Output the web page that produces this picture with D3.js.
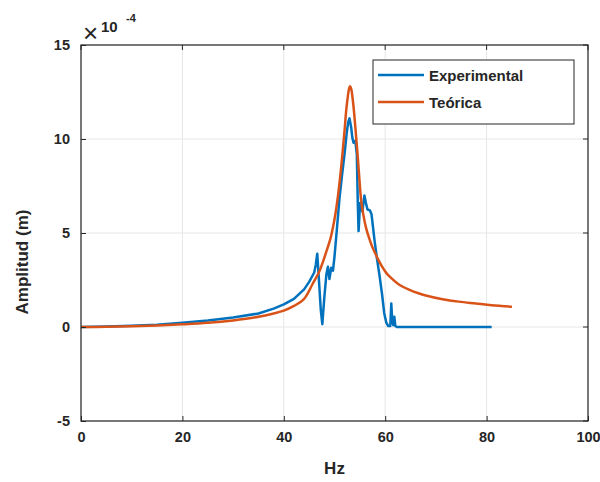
<!DOCTYPE html>
<html><head><meta charset="utf-8">
<script src="https://cdn.jsdelivr.net/npm/d3@7"></script>
<style>body{margin:0;background:#fff}svg{display:block}text{font-family:"Liberation Sans",Arial,sans-serif;font-weight:bold;fill:#262626}</style>
</head><body>
<script>
const expHz  = [0,5,10,15,20,25,30,35,38,40,42,44,45,46,46.3,46.6,47.0,47.3,47.6,48.0,48.4,48.7,49.0,49.35,49.7,50.0,50.5,51.0,51.5,52.0,52.4,52.7,52.95,53.3,53.5,53.75,54.1,54.4,54.6,54.75,55.05,55.3,55.5,55.9,56.2,56.5,57.0,57.3,57.6,57.9,58.4,58.9,59.4,59.8,60.2,60.6,61.0,61.2,61.4,61.6,61.8,62.0,62.3,65,70,75,81];
const expAmp = [0,0.02,0.06,0.12,0.22,0.34,0.5,0.72,0.98,1.2,1.5,2.0,2.4,2.9,3.3,3.9,2.2,0.9,0.15,1.6,2.8,3.2,2.55,3.15,3.0,3.75,5.3,6.9,8.1,9.25,10.3,10.9,11.1,10.6,10.1,9.8,9.9,9.2,6.5,5.1,6.6,6.3,6.15,7.0,6.6,6.25,6.2,6.0,5.3,4.6,3.6,2.7,1.7,0.75,0.25,0.05,0.05,1.25,0.3,0.1,0.55,0.05,0,0,0,0,0];
const teoHz  = [0,5,10,15,20,25,30,35,38,40,42,44,45.7,47,47.7,48.5,49.2,49.7,50.2,50.7,51.2,51.6,52,52.3,52.6,52.85,53.05,53.3,53.6,53.9,54.3,54.6,54.9,55.25,55.7,56.2,56.8,57.4,57.9,58.5,59.3,60.2,61,62.5,64.8,66.7,68,71.3,74.5,77.9,81,85];
const teoAmp = [0,0.01,0.035,0.08,0.14,0.22,0.35,0.54,0.72,0.87,1.12,1.5,2.3,2.95,3.45,4.1,4.7,5.3,6.05,7.0,8.2,9.3,10.5,11.5,12.2,12.65,12.8,12.65,12.1,11.3,10.0,9.0,7.9,6.75,5.95,5.3,4.75,4.3,4.0,3.65,3.25,2.88,2.65,2.3,1.97,1.78,1.68,1.48,1.35,1.25,1.16,1.08];
const xTicks = [0,20,40,60,80,100];
const yTicks = [-5,0,5,10,15];
const seriesNames = ["Experimental","Teórica"];
const colors = ["#0072BD","#D95319"];

const W=600,H=482, L=81, R=588, T=45, B=421;
const svg=d3.select("body").append("svg").attr("width",W).attr("height",H);
const x=d3.scaleLinear().domain([0,100]).range([L,R]);
const y=d3.scaleLinear().domain([-5,15]).range([B,T]);

// grid
svg.append("g").selectAll("line").data(xTicks).join("line")
  .attr("x1",d=>x(d)).attr("x2",d=>x(d)).attr("y1",T).attr("y2",B)
  .attr("stroke","#e6e6e6").attr("stroke-width",1);
svg.append("g").selectAll("line").data(yTicks).join("line")
  .attr("x1",L).attr("x2",R).attr("y1",d=>y(d)).attr("y2",d=>y(d))
  .attr("stroke","#e6e6e6").attr("stroke-width",1);

// lines
svg.append("clipPath").attr("id","c").append("rect").attr("x",L).attr("y",T).attr("width",R-L).attr("height",B-T);
const expData=expHz.map((h,i)=>[h,expAmp[i]]);
const teoData=teoHz.map((h,i)=>[h,teoAmp[i]]);
svg.append("path").datum(expData).attr("clip-path","url(#c)")
  .attr("d",d3.line().x(d=>x(d[0])).y(d=>y(d[1])).curve(d3.curveLinear))
  .attr("fill","none").attr("stroke",colors[0]).attr("stroke-width",2.5).attr("stroke-linejoin","round");
svg.append("path").datum(teoData).attr("clip-path","url(#c)")
  .attr("d",d3.line().x(d=>x(d[0])).y(d=>y(d[1])).curve(d3.curveCatmullRom.alpha(0.5)))
  .attr("fill","none").attr("stroke",colors[1]).attr("stroke-width",2.5);

// axes
const fmt=d=>String(d);
const ax=svg.append("g").attr("transform",`translate(0,${B})`)
  .call(d3.axisBottom(x).tickValues(xTicks).tickFormat(fmt).tickSize(-5).tickPadding(11));
ax.select(".domain").remove();
ax.selectAll("line").attr("stroke","#262626");
ax.selectAll("text").attr("font-size",14.5).style("font-family","Liberation Sans, Arial").style("font-weight","bold").attr("fill","#262626");
const ay=svg.append("g").attr("transform",`translate(${L},0)`)
  .call(d3.axisLeft(y).tickValues(yTicks).tickFormat(fmt).tickSize(-5).tickPadding(11));
ay.select(".domain").remove();
ay.selectAll("line").attr("stroke","#262626");
ay.selectAll("text").attr("font-size",14.5).style("font-family","Liberation Sans, Arial").style("font-weight","bold").attr("fill","#262626");
// top/right ticks
svg.append("g").selectAll("line").data(xTicks).join("line")
  .attr("x1",d=>x(d)).attr("x2",d=>x(d)).attr("y1",T).attr("y2",T+5).attr("stroke","#262626");
svg.append("g").selectAll("line").data(yTicks).join("line")
  .attr("x1",R).attr("x2",R-5).attr("y1",d=>y(d)).attr("y2",d=>y(d)).attr("stroke","#262626");
svg.append("rect").attr("x",L).attr("y",T).attr("width",R-L).attr("height",B-T)
  .attr("fill","none").attr("stroke","#262626").attr("stroke-width",1.2);

// exponent
svg.append("text").attr("x",83).attr("y",42).attr("font-size",26).style("font-weight","normal").text("×");
svg.append("text").attr("x",101).attr("y",32).attr("font-size",15).text("10");
svg.append("text").attr("x",126).attr("y",22).attr("font-size",11).text("-4");

// labels
svg.append("text").attr("x",x(50)).attr("y",474).attr("text-anchor","middle").attr("font-size",17).text("Hz");
svg.append("text").attr("transform","translate(28,262) rotate(-90)").attr("text-anchor","middle").attr("font-size",17).text("Amplitud (m)");

// legend
const lg=svg.append("g");
lg.append("rect").attr("x",373).attr("y",60).attr("width",201).attr("height",64).attr("fill","#fff").attr("stroke","#262626").attr("stroke-width",1);
seriesNames.forEach((n,i)=>{
  const yy=75+i*27;
  lg.append("line").attr("x1",378).attr("x2",424).attr("y1",yy).attr("y2",yy).attr("stroke",colors[i]).attr("stroke-width",2.5);
  lg.append("text").attr("x",429).attr("y",yy+6).attr("font-size",15).text(n);
});
</script>
</body></html>
